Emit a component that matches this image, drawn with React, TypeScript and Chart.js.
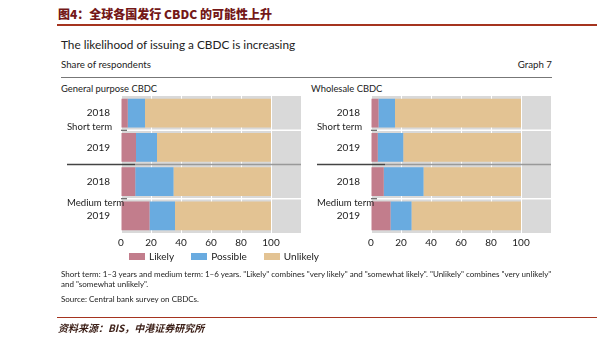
import React, { useEffect, useRef } from "react";
import { Chart, registerables } from "chart.js";

Chart.register(...registerables);

const categories = ["2018", "2019", "2018", "2019"];
const groupLabels = ["Short term", "Medium term"];
const seriesNames = ["Likely", "Possible", "Unlikely"];
const seriesColors = ["#c27d8c", "#69abe0", "#e3c393"];

const gpLikely = [4.5, 10, 9.5, 19];
const gpPossible = [11.5, 14, 25.5, 17];
const gpUnlikely = [84, 76, 65, 64];

const wsLikely = [5, 4.5, 8.5, 13];
const wsPossible = [11, 17, 26.5, 14];
const wsUnlikely = [84, 78.5, 65, 73];

const xMax = 120;
const xTickStep = 20;

const FONT = "Lato, 'Open Sans', sans-serif";
const CJK = "'Noto Sans CJK SC', sans-serif";

const panelPlugin = {
  id: "panelDecor",
  beforeDraw(chart: any) {
    const { ctx, chartArea: a } = chart;
    ctx.save();
    ctx.fillStyle = "#d9d9d9";
    ctx.fillRect(a.left, a.top, a.right - a.left, a.bottom - a.top);
    ctx.restore();
  },
  beforeDatasetsDraw(chart: any) {
    const { ctx, chartArea: a, scales } = chart;
    const y = scales.y;
    ctx.save();
    ctx.strokeStyle = "#ffffff";
    ctx.lineWidth = 1.5;
    [0, 2].forEach((i) => {
      const yy = (y.getPixelForValue(i) + y.getPixelForValue(i + 1)) / 2;
      ctx.beginPath();
      ctx.moveTo(a.left, yy);
      ctx.lineTo(a.right, yy);
      ctx.stroke();
    });
    ctx.restore();
  },
  afterDraw(chart: any) {
    const { ctx, chartArea: a, scales } = chart;
    const y = scales.y;
    ctx.save();
    const b01 = (y.getPixelForValue(0) + y.getPixelForValue(1)) / 2;
    const b12 = (y.getPixelForValue(1) + y.getPixelForValue(2)) / 2;
    const b23 = (y.getPixelForValue(2) + y.getPixelForValue(3)) / 2;
    ctx.lineWidth = 1;
    ctx.strokeStyle = "#444";
    [b01, b23].forEach((yy) => {
      ctx.beginPath();
      ctx.moveTo(a.left, yy);
      ctx.lineTo(a.left + 6, yy);
      ctx.stroke();
    });
    ctx.lineWidth = 1.6;
    ctx.strokeStyle = "#999";
    ctx.beginPath();
    ctx.moveTo(a.left + 14, b12);
    ctx.lineTo(a.right, b12);
    ctx.stroke();
    ctx.strokeStyle = "#444";
    ctx.beginPath();
    ctx.moveTo(9, b12);
    ctx.lineTo(a.left + 14, b12);
    ctx.stroke();
    ctx.fillStyle = "#222";
    ctx.font = `9.6px ${FONT}`;
    ctx.textAlign = "left";
    ctx.textBaseline = "middle";
    ctx.fillText(groupLabels[0], 9, b01 - 3);
    ctx.fillText(groupLabels[1], 9, b23 + 4);
    ctx.restore();
  },
};

function Panel({
  left,
  top,
  values,
}: {
  left: number;
  top: number;
  values: number[][];
}) {
  const ref = useRef<HTMLCanvasElement>(null);
  useEffect(() => {
    if (!ref.current) return;
    const chart = new Chart(ref.current, {
      type: "bar",
      data: {
        labels: categories,
        datasets: seriesNames.map((name, i) => ({
          label: name,
          data: values[i],
          backgroundColor: seriesColors[i],
          borderWidth: 0,
          barPercentage: 0.84,
          categoryPercentage: 1,
        })),
      },
      options: {
        indexAxis: "y",
        responsive: false,
        animation: false,
        layout: { padding: 0 },
        plugins: {
          legend: { display: false },
          tooltip: { enabled: false },
        },
        scales: {
          x: {
            stacked: true,
            min: 0,
            max: xMax,
            grid: { color: "#ffffff", lineWidth: 1, drawTicks: false },
            border: { display: false },
            ticks: {
              stepSize: xTickStep,
              padding: 4,
              color: "#222",
              font: { family: FONT, size: 10 },
              callback: (v: any) => (Number(v) >= xMax ? "" : String(v)),
            },
            afterFit: (s: any) => {
              s.height = 18;
              s.paddingLeft = 0;
              s.paddingRight = 0;
            },
          },
          y: {
            stacked: true,
            grid: { display: false },
            border: { display: false },
            ticks: {
              padding: 3,
              color: "#222",
              font: { family: FONT, size: 10 },
            },
            afterFit: (s: any) => {
              s.width = 63;
              s.paddingTop = 0;
              s.paddingBottom = 0;
            },
          },
        },
      },
      plugins: [panelPlugin],
    } as any);
    return () => chart.destroy();
  }, []);
  return (
    <canvas
      ref={ref}
      width={243}
      height={155}
      style={{ position: "absolute", left, top, width: 243, height: 155 }}
    />
  );
}

export default function App() {
  const txt: React.CSSProperties = {
    position: "absolute",
    fontFamily: FONT,
    color: "#222",
    whiteSpace: "nowrap",
    lineHeight: 1,
  };
  return (
    <div
      style={{
        position: "absolute",
        left: 0,
        top: 0,
        width: 597,
        height: 344,
        background: "#fff",
        overflow: "hidden",
      }}
    >
      <div
        style={{
          ...txt,
          left: 58,
          top: 8,
          fontFamily: CJK,
          fontWeight: 900,
          fontSize: 12,
          color: "#741818",
        }}
      >
        图4：全球各国发行 CBDC 的可能性上升
      </div>
      <div
        style={{
          position: "absolute",
          left: 57,
          top: 24,
          width: 540,
          height: 1.5,
          background: "#a5341f",
        }}
      />
      <div style={{ ...txt, left: 61, top: 39, fontSize: 11.8 }}>
        The likelihood of issuing a CBDC is increasing
      </div>
      <div style={{ ...txt, left: 61, top: 60, fontSize: 9.7 }}>
        Share of respondents
      </div>
      <div style={{ ...txt, right: 597 - 552, top: 60, fontSize: 9.7 }}>
        Graph 7
      </div>
      <div
        style={{
          position: "absolute",
          left: 61,
          top: 76.5,
          width: 491,
          height: 1,
          background: "#777",
        }}
      />
      <div style={{ ...txt, left: 61, top: 83.5, fontSize: 9.4 }}>
        General purpose CBDC
      </div>
      <div style={{ ...txt, left: 311, top: 83.5, fontSize: 9.4 }}>
        Wholesale CBDC
      </div>

      <Panel left={58} top={96} values={[gpLikely, gpPossible, gpUnlikely]} />
      <Panel left={308} top={96} values={[wsLikely, wsPossible, wsUnlikely]} />

      <div
        style={{
          ...txt,
          left: 129,
          top: 251,
          display: "flex",
          alignItems: "center",
          fontSize: 10,
        }}
      >
        {seriesNames.map((n, i) => (
          <div
            key={n}
            style={{ display: "flex", alignItems: "center", marginRight: 17 }}
          >
            <div
              style={{
                width: 16,
                height: 7,
                background: seriesColors[i],
                marginRight: 4,
              }}
            />
            <span>{n}</span>
          </div>
        ))}
      </div>

      <div style={{ ...txt, left: 61, top: 269, fontSize: 8, lineHeight: "10px" }}>
        Short term: 1–3 years and medium term: 1–6 years. "Likely" combines
        "very likely" and "somewhat likely". "Unlikely" combines "very
        unlikely"
        <br />
        and "somewhat unlikely".
      </div>
      <div style={{ ...txt, left: 61, top: 295, fontSize: 8 }}>
        Source: Central bank survey on CBDCs.
      </div>
      <div
        style={{
          position: "absolute",
          left: 57,
          top: 316.5,
          width: 540,
          height: 1.5,
          background: "#a5341f",
        }}
      />
      <div
        style={{
          ...txt,
          left: 58,
          top: 323,
          fontFamily: CJK,
          fontStyle: "italic",
          fontWeight: 700,
          fontSize: 10,
          color: "#3b1e16",
        }}
      >
        资料来源：BIS，中港证券研究所
      </div>
    </div>
  );
}
